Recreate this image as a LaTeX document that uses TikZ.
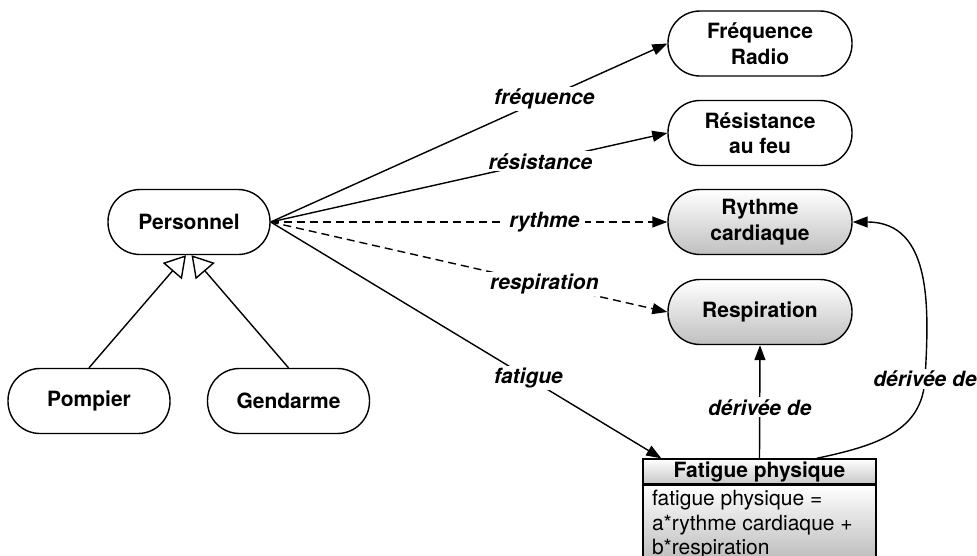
\documentclass[tikz,border=0pt]{standalone}
\usepackage{fontspec}
\setmainfont{TeX Gyre Heros}
\usetikzlibrary{arrows.meta}
\begin{document}
\begin{tikzpicture}[x=1pt,y=-1pt, line width=1.4pt,
  box/.style={draw, rounded corners=32pt, minimum width=162pt, minimum height=65pt, align=center, font=\bfseries\fontsize{21}{25.5}\selectfont, inner sep=0pt},
  widebox/.style={box, minimum width=184pt},
  shadedbox/.style={widebox, top color=white, bottom color=black!25},
  lbl/.style={fill=white, font=\bfseries\itshape\fontsize{21}{25}\selectfont, inner xsep=6pt, inner ysep=2pt},
  arr/.style={-{Triangle[length=15pt,width=11pt]}},
  gen/.style={-{Triangle[open,length=21pt,width=25pt,fill=white]}},
  dsh/.style={dash pattern=on 8pt off 5pt}]
\useasboundingbox (0,0) rectangle (977,555);

\node[box] (pers) at (189,222) {Personnel};
\node[box] (pomp) at (89,401) {Pompier};
\node[box] (gend) at (288.5,401) {Gendarme};
\node[widebox] (freq) at (760,43.5) {Fréquence\\Radio};
\node[widebox] (res) at (760,133) {Résistance\\au feu};
\node[shadedbox] (ryt) at (760,222) {Rythme\\cardiaque};
\node[shadedbox] (resp) at (760,312) {Respiration};

\node[draw, top color=white, bottom color=black!22, minimum width=233pt, minimum height=25pt, inner sep=0pt, font=\bfseries\fontsize{21}{25}\selectfont] (fat) at (759.5,471.5) {Fatigue physique};
\node[draw, top color=white, bottom color=black!35, minimum width=233pt, minimum height=100pt, inner sep=0pt, anchor=north] (body) at (fat.south) {};
\node[anchor=north west, align=left, inner sep=0pt, font=\fontsize{21}{24.5}\selectfont] (bodytxt) at ([xshift=9pt,yshift=-5pt]body.north west) {fatigue physique =\\a*rythme cardiaque +\\b*respiration};

\coordinate (fatin) at ([xshift=19pt]fat.north west);
\coordinate (fatout) at ([xshift=-60pt]fat.north east);

\draw[arr] (pers.east) -- node[lbl, pos=.69] {fréquence} (freq.west);
\draw[arr] (pers.east) -- node[lbl, pos=.68] {résistance} (res.west);
\draw[arr, dsh] (pers.east) -- node[lbl, pos=.69] {rythme} (ryt.west);
\draw[arr, dsh] (pers.east) -- node[lbl, pos=.69] {respiration} (resp.west);
\draw[arr] (pers.east) -- node[lbl, pos=.66] {fatigue} (fatin);

\draw[arr] (fat.north) -- node[lbl, pos=.45] {dérivée de} (resp.south);
\draw[arr] (fatout) .. controls (880,445) and (922,430) .. (925,379) node[lbl] {dérivée de}
  .. controls (929,310) and (933,222) .. (ryt.east);

\draw[gen] (pomp.north) -- ([xshift=-3pt]pers.south);
\draw[gen] (gend.north) -- ([xshift=2.5pt]pers.south);
\end{tikzpicture}
\end{document}
